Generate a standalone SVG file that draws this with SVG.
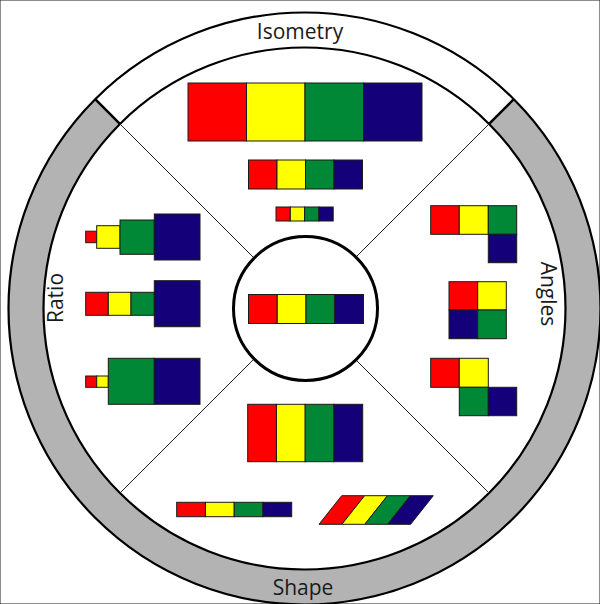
<svg xmlns="http://www.w3.org/2000/svg" width="600" height="604" viewBox="0 0 600 604">
<style>
.r{fill:#FF0000}.y{fill:#FFFF00}.g{fill:#008837}.b{fill:#140079}
rect,polygon{stroke:#1a1a1a;stroke-width:1}
.lbl{font-family:"Open Sans","Noto Sans",sans-serif;font-size:21px;fill:#1a1a1a;text-anchor:middle}
.ring{fill:none;stroke:#000;stroke-width:2.2}
.div{stroke:#222;stroke-width:1}
</style>
<rect width="600" height="604" fill="#fff" stroke="none"/>
<g id="frame">
<path d="M 513.8 99.2 A 296 296 0 1 1 95.2 99.2 L 119.9 123.9 A 261 261 0 1 0 489.1 123.9 Z" fill="#b3b3b3" stroke="none"/>
<circle class="ring" cx="304.5" cy="308.5" r="296"/>
<circle class="ring" cx="304.5" cy="308.5" r="261"/>
<line x1="95.2" y1="99.2" x2="119.9" y2="123.9" stroke="#000" stroke-width="2.5"/>
<line x1="513.8" y1="99.2" x2="489.1" y2="123.9" stroke="#000" stroke-width="2.5"/>
</g>
<g id="connectors">
<line class="div" x1="119.9" y1="123.9" x2="253.6" y2="257.6"/>
<line class="div" x1="489.1" y1="123.9" x2="355.4" y2="257.6"/>
<line class="div" x1="119.9" y1="493.1" x2="253.6" y2="359.4"/>
<line class="div" x1="489.1" y1="493.1" x2="355.4" y2="359.4"/>
</g>
<g id="center">
<circle cx="305.5" cy="308.5" r="72" fill="#fff" stroke="#000" stroke-width="3"/>
<rect class="r" x="248.5" y="294.5" width="28.75" height="29"/>
<rect class="y" x="277.25" y="294.5" width="28.75" height="29"/>
<rect class="g" x="306" y="294.5" width="28.75" height="29"/>
<rect class="b" x="334.75" y="294.5" width="28.75" height="29"/>
</g>
<g id="labels">
<text class="lbl" x="300" y="39">Isometry</text>
<text class="lbl" x="303" y="595">Shape</text>
<text class="lbl" transform="translate(63,298) rotate(-90)">Ratio</text>
<text class="lbl" transform="translate(541,294) rotate(90)">Angles</text>
</g>
<g id="iso-large">
<rect class="r" x="188" y="83" width="58.5" height="58"/>
<rect class="y" x="246.5" y="83" width="58.5" height="58"/>
<rect class="g" x="305" y="83" width="58.5" height="58"/>
<rect class="b" x="363.5" y="83" width="58.5" height="58"/>
</g>
<g id="iso-medium">
<rect class="r" x="248.5" y="160" width="28.5" height="29"/>
<rect class="y" x="277" y="160" width="28.5" height="29"/>
<rect class="g" x="305.5" y="160" width="28.5" height="29"/>
<rect class="b" x="334" y="160" width="28.5" height="29"/>
</g>
<g id="iso-small">
<rect class="r" x="276" y="207" width="14.3" height="14"/>
<rect class="y" x="290.3" y="207" width="14.3" height="14"/>
<rect class="g" x="304.6" y="207" width="14.3" height="14"/>
<rect class="b" x="318.9" y="207" width="14.3" height="14"/>
</g>
<g id="ratio-1">
<rect class="r" x="85.7" y="231.2" width="11" height="11.5"/>
<rect class="y" x="96.7" y="225.7" width="23.3" height="22.6"/>
<rect class="g" x="120" y="220" width="34.3" height="34.3"/>
<rect class="b" x="154.3" y="214" width="45.7" height="46"/>
</g>
<g id="ratio-2">
<rect class="r" x="85.7" y="292.3" width="22.6" height="23"/>
<rect class="y" x="108.3" y="292.3" width="22.7" height="23"/>
<rect class="g" x="131" y="292.3" width="23.3" height="23"/>
<rect class="b" x="154.3" y="280.7" width="45.7" height="46"/>
</g>
<g id="ratio-3">
<rect class="r" x="85.7" y="376" width="11" height="11.3"/>
<rect class="y" x="96.7" y="376" width="11.6" height="11.3"/>
<rect class="g" x="108.3" y="358.3" width="46" height="46"/>
<rect class="b" x="154.3" y="358.3" width="45.7" height="46"/>
</g>
<g id="angles-1">
<rect class="r" x="430.7" y="205.7" width="28.6" height="28.6"/>
<rect class="y" x="459.3" y="205.7" width="29" height="28.6"/>
<rect class="g" x="488.3" y="205.7" width="28.4" height="28.6"/>
<rect class="b" x="488.3" y="234.3" width="28.4" height="28.4"/>
</g>
<g id="angles-2">
<rect class="r" x="449" y="281.7" width="28.7" height="28.3"/>
<rect class="y" x="477.7" y="281.7" width="28.6" height="28.3"/>
<rect class="b" x="449" y="310" width="28.7" height="28.7"/>
<rect class="g" x="477.7" y="310" width="28.6" height="28.7"/>
</g>
<g id="angles-3">
<rect class="r" x="430.7" y="358.3" width="28.6" height="29"/>
<rect class="y" x="459.3" y="358.3" width="29" height="29"/>
<rect class="g" x="459.3" y="387.3" width="29" height="28.4"/>
<rect class="b" x="488.3" y="387.3" width="28.4" height="28.4"/>
</g>
<g id="shape-tall">
<rect class="r" x="247.7" y="404.3" width="28.75" height="57.4"/>
<rect class="y" x="276.45" y="404.3" width="28.75" height="57.4"/>
<rect class="g" x="305.2" y="404.3" width="28.75" height="57.4"/>
<rect class="b" x="333.95" y="404.3" width="28.75" height="57.4"/>
</g>
<g id="shape-flat">
<rect class="r" x="176.7" y="502.3" width="28.75" height="14.4"/>
<rect class="y" x="205.45" y="502.3" width="28.75" height="14.4"/>
<rect class="g" x="234.2" y="502.3" width="28.75" height="14.4"/>
<rect class="b" x="262.95" y="502.3" width="28.75" height="14.4"/>
</g>
<g id="shape-skew">
<polygon class="r" points="319,524.3 341.7,495.7 364.6,495.7 341.9,524.3"/>
<polygon class="y" points="341.9,524.3 364.6,495.7 387.5,495.7 364.8,524.3"/>
<polygon class="g" points="364.8,524.3 387.5,495.7 410.4,495.7 387.7,524.3"/>
<polygon class="b" points="387.7,524.3 410.4,495.7 433.3,495.7 410.6,524.3"/>
</g>
</svg>
